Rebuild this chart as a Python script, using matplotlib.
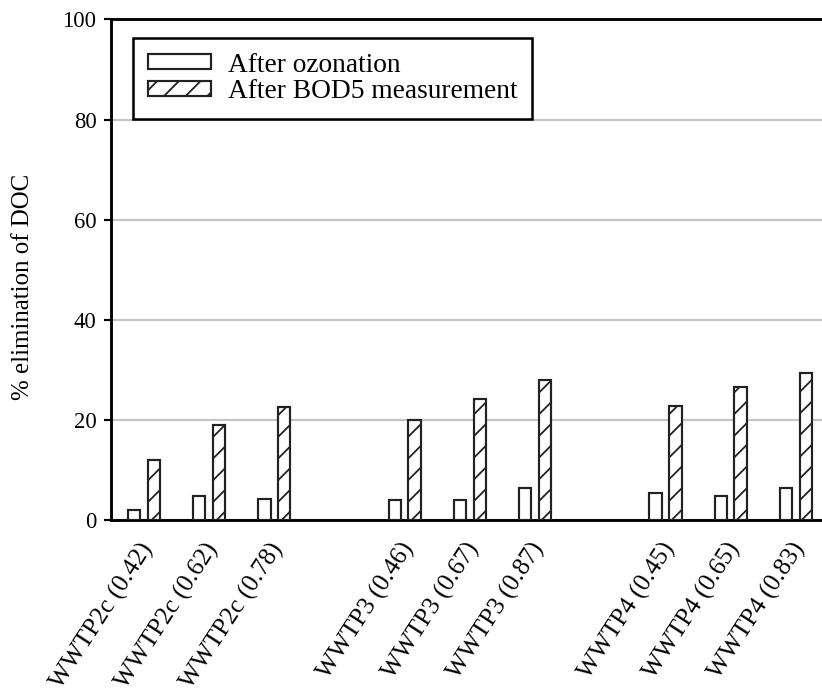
import numpy as np
from matplotlib import pyplot as plt
from matplotlib.transforms import ScaledTranslation

plt.rcParams['font.family'] = ['Liberation Serif', 'DejaVu Serif']
plt.rcParams['hatch.linewidth'] = 1.0

# samples with the O3:DOC ratio in brackets
samples = ["WWTP2c (0.42)", "WWTP2c (0.62)", "WWTP2c (0.78)",
           "WWTP3 (0.46)", "WWTP3 (0.67)", "WWTP3 (0.87)",
           "WWTP4 (0.45)", "WWTP4 (0.65)", "WWTP4 (0.83)"]
positions = [0, 1, 2, 4, 5, 6, 8, 9, 10]   # gap of one slot between plants

after_ozonation = [2.0, 4.8, 4.2, 4.1, 4.1, 6.5, 5.4, 4.9, 6.5]
after_bod5 = [12.0, 19.1, 22.7, 20.0, 24.3, 28.0, 22.8, 26.7, 29.5]

dpi = 130
fig = plt.figure(figsize=(822 / dpi, 698 / dpi), dpi=dpi)
ax = fig.add_axes([0.135, 0.2543, 0.865, 0.7178])

x = np.array(positions, dtype=float)
w = 0.19
ax.bar(x - 0.151, after_ozonation, width=w, color="white",
       edgecolor="#222222", lw=1.2, label="After ozonation", zorder=3)
ax.bar(x + 0.151, after_bod5, width=w, color="white", hatch="//",
       edgecolor="#222222", lw=1.2, label="After BOD5 measurement", zorder=3)

ax.set_xlim(-0.505, 10.40)
ax.set_ylim(0, 100)
ax.set_yticks([0, 20, 40, 60, 80, 100])
ax.yaxis.grid(True, color="#c4c4c4", lw=1.2)
ax.set_axisbelow(True)

for side in ["left", "bottom", "top"]:
    ax.spines[side].set_linewidth(1.6)
    ax.spines[side].set_color("black")
ax.spines["right"].set_visible(False)

ax.tick_params(axis="y", direction="out", length=4, width=1.2,
               labelsize=12.5, pad=4)
ax.tick_params(axis="x", length=0, pad=10, labelsize=14)

ax.set_xticks(x)
ax.set_xticklabels(samples, rotation=57, ha="right")
shift = ScaledTranslation(14 / dpi, 0, fig.dpi_scale_trans)
for lab in ax.get_xticklabels():
    lab.set_transform(lab.get_transform() + shift)

ax.set_ylabel("% elimination of DOC", fontsize=13.8)
ax.yaxis.set_label_coords(-0.108, 0.466)

leg = ax.legend(loc="upper left", bbox_to_anchor=(0.031, 0.964),
                borderaxespad=0, fontsize=15.2, fancybox=False,
                framealpha=1, edgecolor="black", handlelength=2.3,
                handleheight=0.47, handletextpad=0.6, labelspacing=0.05,
                borderpad=0.55)
leg.get_frame().set_linewidth(1.4)

fig.savefig("out.png", dpi=dpi)
